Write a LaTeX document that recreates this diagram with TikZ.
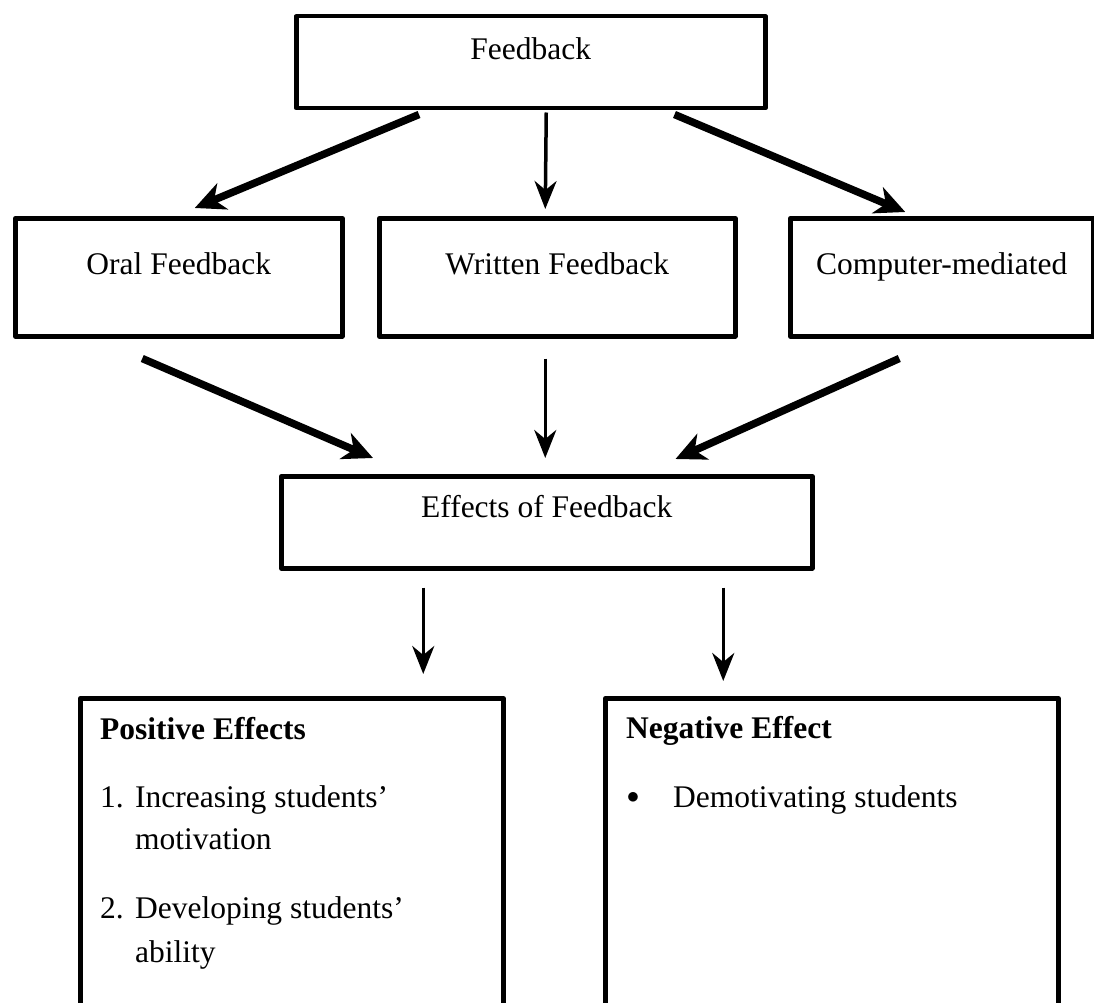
\documentclass[tikz,border=0pt]{standalone}
\usepackage{fontspec}
\setmainfont{Liberation Serif}
\usepackage{tikz}
\usetikzlibrary{arrows.meta}

\begin{document}
\begin{tikzpicture}[x=1pt, y=-1pt, font=\fontsize{31.5}{42}\selectfont,
    box/.style={draw, line width=4.5pt, line join=round, inner sep=0pt, anchor=north west},
    straightarrow/.style={-{Stealth[length=28pt, width=22pt, inset=9pt]}, line width=3.5pt},
    slantarrow/.style={-{Stealth[length=30pt, width=28pt, inset=9pt]}, line width=7.5pt}]
    \clip (0,0) rectangle (1094,1003);

    % Top box
    \node[box, minimum width=469pt, text height=43pt, text depth=49pt] (fb) at (294,14) {Feedback};

    % Kinds of feedback
    \node[box, minimum width=327pt, text height=56pt, text depth=62pt] (oral) at (13,216) {Oral Feedback};
    \node[box, minimum width=356pt, text height=56pt, text depth=62pt] (written) at (377,216) {Written Feedback};
    \node[box, minimum width=303pt, text height=56pt, text depth=62pt] (computer) at (788,216) {Computer-mediated};

    % Arrows from the top box
    \draw[slantarrow] ([xshift=125pt, yshift=-4pt]fb.south west) -- ([xshift=16pt, yshift=8pt]oral.north);
    \draw[straightarrow] ([xshift=15.5pt, yshift=-2pt]fb.south) -- ([xshift=-12pt, yshift=7pt]written.north);
    \draw[slantarrow] ([xshift=-93pt, yshift=-4pt]fb.south east) -- ([xshift=-36.5pt, yshift=4pt]computer.north);

    % Effects box
    \node[box, minimum width=531pt, text height=41pt, text depth=51pt] (effects) at (279,474) {Effects of Feedback};

    % Arrows into the effects box
    \draw[slantarrow] ([xshift=-36.5pt, yshift=-20pt]oral.south) -- ([xshift=94pt, yshift=16pt]effects.north west);
    \draw[straightarrow] ([xshift=-12pt, yshift=-20pt]written.south) -- ([xshift=-1.5pt, yshift=16pt]effects.north);
    \draw[slantarrow] ([xshift=-42.5pt, yshift=-20pt]computer.south) -- ([xshift=-139pt, yshift=15pt]effects.north east);

    % Positive and negative boxes
    \node[box, minimum width=423pt, minimum height=404pt] (pos) at (78,696) {};
    \node[box, minimum width=453pt, minimum height=404pt] (neg) at (603,696) {};

    \draw[straightarrow] ([xshift=-123.5pt, yshift=-17pt]effects.south) -- ([xshift=131.5pt, yshift=22pt]pos.north);
    \draw[straightarrow] ([xshift=176.5pt, yshift=-17pt]effects.south) -- ([xshift=-108.5pt, yshift=15pt]neg.north);

    % Positive effects
    \node[anchor=base west, inner sep=0pt] (postitle) at (100,739) {\textbf{Positive Effects}};
    \node[anchor=base west, inner sep=0pt] (num1) at (100,807) {1.};
    \node[anchor=base west, inner sep=0pt] (item1) at (135,807) {Increasing students'};
    \node[anchor=base west, inner sep=0pt] (item1b) at (135,849) {motivation};
    \node[anchor=base west, inner sep=0pt] (num2) at (100,918) {2.};
    \node[anchor=base west, inner sep=0pt] (item2) at (135,918) {Developing students'};
    \node[anchor=base west, inner sep=0pt] (item2b) at (135,962) {ability};

    % Negative effect
    \node[anchor=base west, inner sep=0pt] (negtitle) at (626,738) {\textbf{Negative Effect}};
    \node[inner sep=0pt] (dot) at (633,798) {\fontsize{40}{40}\selectfont$\bullet$};
    \node[anchor=base west, inner sep=0pt] (item3) at (673,807) {Demotivating students};
\end{tikzpicture}
\end{document}
